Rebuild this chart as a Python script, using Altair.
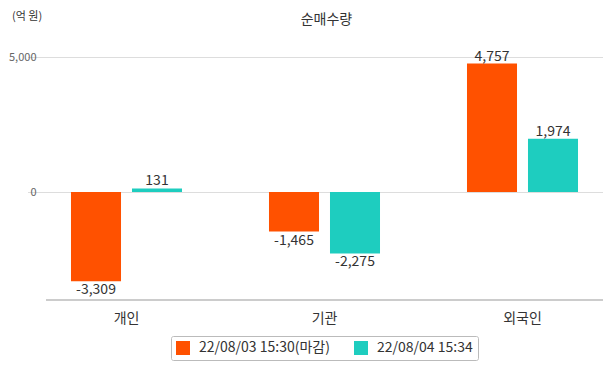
import altair as alt
import pandas as pd

categories = ["개인", "기관", "외국인"]
series = ["22/08/03 15:30(마감)", "22/08/04 15:34"]
values_0803 = [-3309, -1465, 4757]
values_0804 = [131, -2275, 1974]
colors = ["#ff5100", "#1ecdbf"]
chart_title = "순매수량"
unit_label = "(억 원)"

rows = []
for i, c in enumerate(categories):
    rows.append({"cat": c, "series": series[0], "value": values_0803[i]})
    rows.append({"cat": c, "series": series[1], "value": values_0804[i]})
df = pd.DataFrame(rows)
df["label"] = df["value"].map(lambda v: f"{v:,}")

FONT = "Noto Sans CJK KR"
W, H = 557, 270

x = alt.X("cat:N", sort=categories, title=None,
          scale=alt.Scale(range=[-18.5, 575.5], paddingInner=0, paddingOuter=0),
          axis=alt.Axis(labelAngle=0, ticks=False, domain=False, labelFontSize=14,
                        labelColor="#333", labelPadding=11, labelFont=FONT))
xo = alt.XOffset("series:N", sort=series,
                 scale=alt.Scale(paddingInner=0.18, paddingOuter=0.713))
y = alt.Y("value:Q", title=None,
          scale=alt.Scale(domain=[-4000, 6000], nice=False),
          axis=alt.Axis(values=[0, 5000], format=",d", ticks=False, domain=False,
                        labelColor="#666", labelFontSize=11, labelPadding=10,
                        labelFont=FONT, gridColor="#dddddd"))
color = alt.Color("series:N", sort=series,
                  scale=alt.Scale(domain=series, range=colors),
                  legend=alt.Legend(title=None, orient="none", legendX=125, legendY=306,
                                    direction="horizontal", symbolType="square",
                                    symbolSize=196, labelFontSize=14, labelColor="#333",
                                    labelFont=FONT, strokeColor="#bbbbbb", padding=5,
                                    labelOffset=9, cornerRadius=2, columnPadding=24,
                                    symbolStrokeWidth=0, fillColor="white"))

bars = alt.Chart(df).mark_bar().encode(x=x, xOffset=xo, y=y, color=color)

pos_text = alt.Chart(df).transform_filter("datum.value >= 0").mark_text(
    baseline="bottom", dy=0, fontSize=14, color="#333", font=FONT
).encode(x=x, xOffset=xo, y=y, text="label:N")

neg_text = alt.Chart(df).transform_filter("datum.value < 0").mark_text(
    baseline="top", dy=2, fontSize=14, color="#333", font=FONT
).encode(x=x, xOffset=xo, y=y, text="label:N")

base_line = alt.Chart(pd.DataFrame({"v": [-4000]})).mark_rule(color="#999999").encode(
    y=alt.Y("v:Q"), x=alt.value(0), x2=alt.value(W))

title_mark = alt.Chart(pd.DataFrame({"t": [chart_title]})).mark_text(
    fontSize=14, color="#333", font=FONT, baseline="middle", align="center"
).encode(x=alt.value(W / 2 + 2), y=alt.value(-10), text="t:N")

unit_mark = alt.Chart(pd.DataFrame({"t": [unit_label]})).mark_text(
    fontSize=11, color="#333", font=FONT, baseline="middle", align="left"
).encode(x=alt.value(-34), y=alt.value(-13), text="t:N")

chart = alt.layer(bars, pos_text, neg_text, base_line, title_mark, unit_mark).properties(
    width=W, height=H,
    autosize=alt.AutoSizeParams(type="none"),
    padding={"left": 38, "top": 22, "right": 0, "bottom": 62},
).configure_view(stroke=None)

chart.save("out.html", embed_options={"renderer": "svg", "actions": False})
